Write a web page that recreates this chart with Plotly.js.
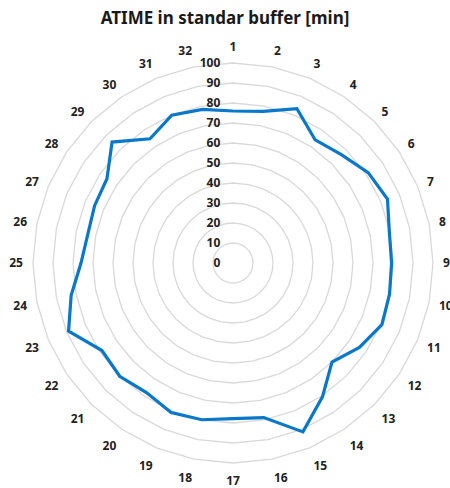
<!DOCTYPE html>
<html>
<head>
<meta charset="utf-8">
<script src="https://cdn.plot.ly/plotly-3.0.1.min.js"></script>
<style>
  html, body { margin: 0; padding: 0; background: #ffffff; }
  #chart { width: 450px; height: 488px; }
</style>
</head>
<body>
<div id="chart"></div>
<script>
// Sample numbers around the radar (1..32)
const samples = ['1','2','3','4','5','6','7','8','9','10','11','12','13','14','15','16',
                 '17','18','19','20','21','22','23','24','25','26','27','28','29','30','31','32'];

// ATIME measured in standard buffer, minutes
const atime = [76, 77.3, 83.5, 74, 76.6, 81.3, 83.6, 79.7, 79.3, 79.8, 80.6, 76, 70, 80.5, 91.4, 78.8,
               77.8, 79.9, 80.9, 77.9, 80.1, 78.8, 89, 82.5, 76, 74, 74.9, 75.8, 85.5, 74.7, 80, 78.3];

// Radial ticks 0..100
const radialTicks = [0, 10, 20, 30, 40, 50, 60, 70, 80, 90, 100];

const gridColor = '#d9d9d9';
const labelFont = { family: 'Noto Sans, Open Sans, sans-serif', size: 12, color: '#222222', weight: 'bold' };

// close the outline back to the first sample
const theta = samples.concat([samples[0]]);
const r = atime.concat([atime[0]]);

const trace = {
  type: 'scatterpolar',
  mode: 'lines',
  r: r,
  theta: theta,
  line: { color: '#0a78c8', width: 3.2 },
  hoverinfo: 'skip',
  showlegend: false
};

const layout = {
  width: 450,
  height: 488,
  margin: { l: 33, r: 17, t: 63, b: 25 },
  paper_bgcolor: '#ffffff',
  title: {
    text: '<b>ATIME in standar buffer [min]</b>',
    x: 0.5,
    xanchor: 'center',
    y: 0.963,
    yanchor: 'middle',
    font: { family: 'Noto Sans, Open Sans, sans-serif', size: 17, color: '#1a1a1a' }
  },
  polar: {
    bgcolor: '#ffffff',
    gridshape: 'linear',
    domain: { x: [0, 1], y: [0, 1] },
    radialaxis: {
      range: [0, 100],
      tickvals: radialTicks,
      ticktext: radialTicks.map(String),
      angle: 90,
      tickangle: 90,
      side: 'counterclockwise',
      showline: false,
      // invisible ticks keep the labels clear of the axis
      ticks: 'outside',
      ticklen: 8,
      tickcolor: 'rgba(0,0,0,0)',
      showgrid: true,
      gridcolor: gridColor,
      gridwidth: 1.3,
      tickfont: labelFont
    },
    angularaxis: {
      type: 'category',
      categoryarray: samples,
      direction: 'clockwise',
      rotation: 90,
      showgrid: false,
      showline: true,
      linecolor: gridColor,
      linewidth: 1.3,
      ticks: 'outside',
      ticklen: 7,
      tickcolor: 'rgba(0,0,0,0)',
      tickfont: labelFont
    }
  }
};

Plotly.newPlot('chart', [trace], layout, { displayModeBar: false, staticPlot: true });
</script>
</body>
</html>
